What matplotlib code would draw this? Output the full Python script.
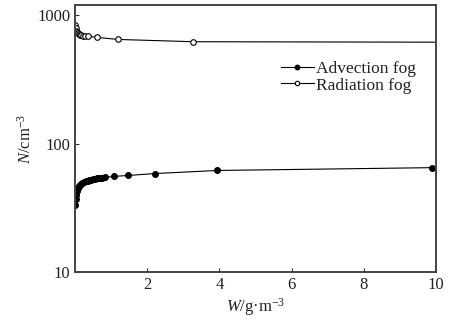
import numpy as np
import matplotlib.pyplot as plt

plt.rcParams['font.family'] = 'Liberation Serif'
plt.rcParams['mathtext.fontset'] = 'custom'
plt.rcParams['mathtext.rm'] = 'Liberation Serif'
plt.rcParams['mathtext.it'] = 'Liberation Serif:italic'

# liquid water content W (g/m3) and droplet number N (cm-3)
w_adv = [0.01, 0.02, 0.03, 0.05, 0.07, 0.10, 0.13, 0.16, 0.20, 0.25, 0.30,
         0.35, 0.40, 0.45, 0.50, 0.55, 0.60, 0.65, 0.70, 0.75, 0.83, 1.08,
         1.47, 2.22, 3.94, 9.90]
n_adv = [33, 37, 40, 43, 45, 46.5, 47.5, 48.5, 49.5, 50.5, 51, 51.5, 52,
         52.5, 53, 53.3, 53.6, 53.9, 54.1, 54.3, 54.6, 55.6, 56.5, 58.5,
         61.8, 65]

w_rad = [0.01, 0.02, 0.04, 0.06, 0.08, 0.10, 0.13, 0.17, 0.22, 0.28, 0.36,
         0.61, 1.19, 3.28, 10.0]
n_rad = [830, 790, 755, 735, 720, 710, 700, 695, 690, 688, 685, 670, 646,
         620, 615]

xticks = [2, 4, 6, 8, 10]
yticks = [10, 100, 1000]

fig = plt.figure(figsize=(4.49, 3.24), dpi=100)
ax = fig.add_axes([0.167, 0.160, 0.804, 0.825])

ax.plot(w_adv, n_adv, color='black', lw=0.8, marker='o', ms=4,
        mfc='black', mec='black', label='Advection fog')
ax.plot(w_rad, n_rad, color='black', lw=0.8, marker='o', ms=4,
        mfc='white', mec='black', mew=0.8, markevery=slice(0, -1),
        label='Radiation fog')

ax.set_yscale('log')
ax.set_xlim(0, 10)
ax.set_ylim(10, 1200)
ax.set_xticks(xticks)
ax.set_xticklabels([str(t) for t in xticks])
ax.set_yticks(yticks)
ax.set_yticklabels([str(t) for t in yticks])
ax.yaxis.set_minor_locator(plt.NullLocator())
ax.tick_params(direction='in', length=3, width=0.8, labelsize=12,
               colors='#333333', labelcolor='#222222')

for s in ax.spines.values():
    s.set_linewidth(1.4)
    s.set_color('#444444')

ax.set_xlabel('$W$/g·m$^{-3}$', fontsize=12, labelpad=2, color='#222222')
ax.set_ylabel('$N$/cm$^{-3}$', fontsize=12, labelpad=2, color='#222222')

leg = ax.legend(loc='upper right', bbox_to_anchor=(0.965, 0.815),
                frameon=False, fontsize=12.5, handlelength=1.9,
                handletextpad=0.15, labelspacing=0.0, borderaxespad=0.0,
                markerscale=0.8)
for t in leg.get_texts():
    t.set_color('#222222')

fig.savefig('out.png', dpi=100)
